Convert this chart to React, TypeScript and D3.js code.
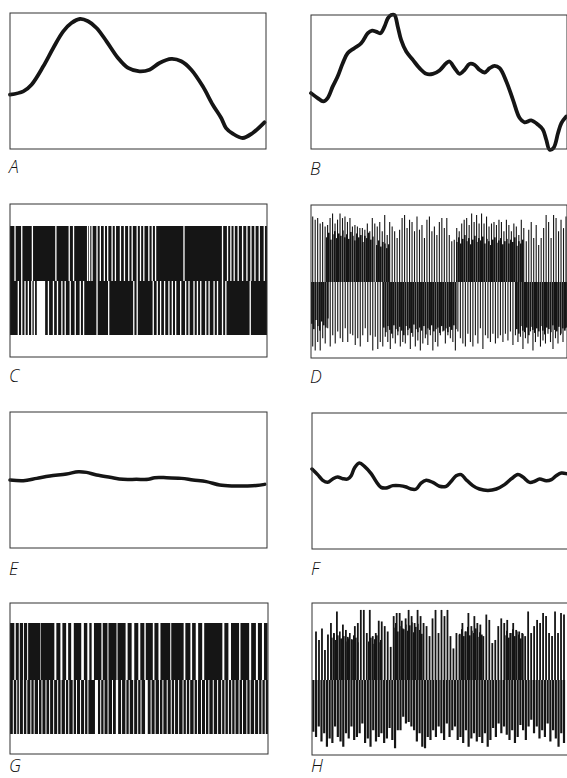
import React from 'react'
import * as d3 from 'd3'

// smooth traces, x and y both 0..100 of the frame
const traceA: [number, number][] = [
  [0, 40], [5.2, 42.4], [8.4, 47.3], [13, 60.8], [16.9, 74.3], [20.8, 86.5], [24, 92.6],
  [27.3, 95.6], [30.5, 93.9], [33.8, 89], [37.7, 79.2], [42.2, 66.9], [46.1, 59.6],
  [50.6, 57.1], [54.5, 58.3], [58.4, 63.2], [63, 66.2], [66.9, 64.5], [70.8, 58.3],
  [75.3, 46.1], [79.2, 32.6], [82.5, 22.8], [84.4, 15.4], [87, 11.3], [90.9, 8.1],
  [94.8, 11.8], [99.4, 19.6]
]
const traceB: [number, number][] = [
  [0, 41.7], [2.6, 38], [4.8, 35.5], [6.5, 38], [8.5, 46.7], [10.4, 54.1], [12.4, 64],
  [14.3, 71.5], [16.9, 75.2], [19.6, 78.9], [22.2, 86.4], [23.9, 88.3], [25.4, 87.6],
  [27.1, 86.4], [28.7, 91.3], [30, 97.5], [31.3, 100], [32.6, 100], [33.9, 91.3],
  [35.2, 81.4], [37.2, 72.7], [39.8, 66.5], [42.4, 60.3], [45, 56.1], [47.6, 56.1],
  [50.2, 58.6], [52.8, 64], [54.1, 65.3], [56.1, 60.3], [58, 56.1], [60, 59.1],
  [61.9, 63.5], [63.9, 62.8], [65.8, 59.1], [67.8, 57.1], [69.8, 60.3], [71.7, 62],
  [73.7, 60.3], [76.3, 50.4], [78.9, 36.7], [81.5, 23.1], [83.4, 19.9], [86, 21.3],
  [88.7, 18.1], [90.6, 14.4], [91.9, 6.9], [93.2, -0.5], [94.8, 1], [96.5, 11.9],
  [97.8, 19.4], [99.7, 24.3]
]
const traceE: [number, number][] = [
  [0, 50], [5.2, 49.5], [10.4, 51.2], [15.5, 52.9], [22, 54.4], [26.6, 56.1], [29.8, 55.6],
  [33.7, 53.7], [38.9, 52], [44, 50.5], [49.2, 50.5], [53.8, 50.5], [56.3, 51.7],
  [60.9, 51.7], [66.7, 51.2], [71.2, 50], [76.4, 48.8], [81.6, 46.3], [86.8, 45.6],
  [92, 45.6], [95.9, 45.9], [99.1, 46.8]
]
const traceF: [number, number][] = [
  [0, 58.8], [2.2, 54.7], [4.2, 50.5], [6.1, 49], [8.1, 51.5], [10, 52.9], [12, 51.7],
  [14, 51.5], [15.3, 53.9], [16.6, 59.6], [18.5, 63.2], [20.5, 60.8], [23.1, 55.4],
  [25, 49.8], [27, 45.3], [28.9, 44.9], [31.6, 46.6], [34.2, 46.6], [36.8, 45.6],
  [38.7, 44.1], [40.7, 44.1], [42.6, 48.5], [44.6, 50.5], [47.2, 49], [49.8, 46.1],
  [52.4, 46.1], [54.4, 49.8], [56.3, 53.9], [58.3, 54.7], [60.2, 51], [62.8, 46.6],
  [65.4, 44.1], [68.7, 43.1], [72, 44.1], [75.2, 47.3], [77.8, 51.5], [80.4, 54.7],
  [82.4, 52.9], [85, 49], [87, 49.8], [88.9, 51.5], [91.5, 50.2], [93.5, 51], [95.4, 53.9],
  [97.4, 55.9], [99.3, 55.4]
]

// binary pulse panels: white gaps (px along a 256 wide frame)
const gapsCTop = [5, 11.7, 22.3, 45.7, 59, 63.3, 77.3, 79.3, 81.7, 86.7, 90, 94, 97.3, 101.7,
  105, 110, 114, 118.3, 121.7, 126.7, 130, 133.3, 138.3, 141.7, 145, 173.3, 211.7, 216.7,
  220, 223.3, 227.3, 231.7, 236, 240, 244, 248.3, 253.3]
const gapsCBottom = [8.3, 11.7, 15, 18.3, 21.7, 24.3, 38.3, 43.3, 47.3, 51.7, 55, 60, 65, 70,
  73.3, 86.7, 98.3, 123.3, 126.7, 142.7, 146.7, 150, 154, 158.3, 161.7, 165, 170, 175, 178.3,
  183.3, 186.7, 190, 195, 198.3, 203.3, 206.7, 211.7, 215, 239.3]
const wideCBottom: [number, number][] = [[26.7, 35]]

const wideGTop: [number, number][] = [
  [4.3, 5.7], [8.7, 9.7], [13, 13.9], [17, 18], [30, 30.5], [44, 46], [50, 52], [55.7, 57.7],
  [60.7, 63.3], [70.7, 73.3], [76.7, 78.7], [81, 83.3], [90.7, 92], [96.7, 97.7],
  [105.7, 106.7], [114.7, 116.7], [120.7, 123.3], [127.3, 129.3], [133.3, 134.7],
  [141.7, 143.3], [147.3, 149.3], [159, 160], [172.3, 174], [179, 180.7], [184.3, 186.7],
  [190.7, 192.7], [210.7, 212.7], [216.7, 219.3], [227.3, 228.7], [237.3, 239.3],
  [244, 246], [250, 252], [255.5, 256]
]
const gapsGBottom = [3.3, 6.7, 9.3, 13.3, 16.7, 20.7, 24, 28.3, 31.7, 35.7, 39.3, 43.3, 47.3,
  50.7, 55, 58.3, 62.7, 66, 70, 74, 77.3, 90, 93.3, 97.3, 101.7, 110.7, 115, 118.3, 122.7,
  126.7, 130, 140, 144, 148.3, 151.7, 156, 160, 163.3, 167.3, 171.7, 175, 178.3, 182.7, 186,
  190, 194, 197.3, 201.7, 206, 210, 213.3, 216.7, 220, 223.3, 227.3, 230.7, 235, 238.3,
  242.7, 246.7, 250, 253.3]
const wideGBottom: [number, number][] = [[84.3, 87.3], [105, 107.3], [134, 136.7]]

// spike panels: spike heights (% of half frame), in order left to right
const spikesDUp = [85, 81, 83, 76, 78, 72, 74, 83, 89, 76, 81, 89, 83, 85, 78, 83, 72, 74, 72,
  70, 70, 68, 76, 66, 83, 76, 72, 78, 66, 87, 61, 78, 72, 66, 57, 68, 83, 87, 70, 81, 78, 66,
  85, 68, 74, 57, 81, 85, 66, 72, 61, 78, 83, 70, 83, 61, 53, 55, 70, 66, 76, 81, 83, 74, 89,
  78, 87, 76, 89, 76, 85, 72, 76, 78, 74, 81, 78, 66, 81, 74, 66, 76, 72, 61, 81, 70, 53, 68,
  78, 57, 74, 48, 57, 70, 87, 78, 57, 87, 83, 66, 81, 70, 85]
const spikesDDown = [85, 90, 79, 90, 74, 81, 61, 85, 70, 81, 65, 74, 79, 61, 79, 68, 70, 83, 74,
  85, 70, 61, 79, 70, 90, 72, 88, 79, 85, 72, 79, 88, 74, 81, 70, 85, 79, 81, 70, 88, 72, 85,
  77, 90, 81, 74, 83, 70, 90, 79, 85, 70, 65, 81, 70, 74, 79, 90, 65, 74, 81, 85, 68, 79, 85,
  70, 81, 61, 88, 70, 74, 79, 68, 81, 74, 70, 79, 68, 77, 65, 83, 70, 79, 72, 88, 74, 81, 65,
  90, 79, 72, 85, 77, 81, 68, 79, 88, 74, 81, 70, 79, 61]

// dense clusters: start px, then heights every 2 px
type Cluster = { from: number; heights: number[] }
const denseDUp: Cluster[] = [
  { from: 15, heights: [58, 64, 55, 62, 66, 57, 63, 60, 67, 58, 62, 56, 65, 60, 54, 63, 58, 61, 52, 60, 57, 64, 55, 59] },
  { from: 65, heights: [48, 54, 46, 52, 50, 44, 49] },
  { from: 145, heights: [52, 58, 50, 56, 61, 53, 57, 49, 55, 60, 52, 57, 54, 59, 50, 56, 53, 48, 55, 58, 51, 54, 57, 49, 53, 56, 50, 55, 52, 58, 47, 53, 50, 55] }
]
const denseDDown: Cluster[] = [
  { from: 0, heights: [55, 62, 50, 58, 64, 52, 57, 60, 48] },
  { from: 72, heights: [60, 66, 58, 63, 68, 57, 62, 65, 59, 64, 70, 58, 63, 61, 67, 56, 62, 66, 60, 64, 58, 69, 61, 63, 57, 65, 62, 60, 67, 58, 64, 61, 66, 59, 63, 57, 62] },
  { from: 205, heights: [62, 68, 58, 64, 66, 60, 70, 59, 63, 67, 61, 65, 58, 64, 69, 60, 62, 66, 57, 63, 65, 59, 68, 61, 64, 60] }
]

const spikesHUp = [63, 52, 67, 39, 59, 74, 61, 89, 54, 72, 65, 54, 52, 70, 74, 91, 91, 61, 91,
  57, 61, 77, 76, 70, 63, 43, 83, 87, 87, 67, 80, 91, 83, 74, 91, 83, 74, 70, 57, 80, 91, 61,
  91, 83, 91, 57, 41, 61, 59, 74, 63, 87, 70, 83, 74, 72, 57, 85, 78, 48, 52, 70, 80, 74, 78,
  61, 74, 65, 63, 61, 57, 89, 61, 70, 78, 74, 87, 83, 61, 57, 89, 61, 87, 85]
const spikesHDown = [69, 76, 62, 82, 71, 89, 78, 84, 62, 76, 82, 89, 71, 78, 62, 80, 76, 71,
  58, 84, 78, 89, 67, 82, 76, 71, 84, 78, 64, 80, 91, 67, 67, 49, 58, 56, 62, 67, 82, 71, 89,
  91, 76, 80, 67, 76, 62, 71, 80, 58, 76, 67, 62, 80, 76, 84, 67, 89, 78, 71, 82, 76, 84, 71,
  89, 80, 64, 76, 58, 71, 62, 73, 80, 67, 84, 76, 60, 67, 80, 62, 53, 71, 62, 78, 67, 76, 58,
  82, 67, 78, 89, 71, 84]
const denseHUp: Cluster[] = [
  { from: 19, heights: [55, 60, 52, 58, 63, 54, 57, 50, 56, 61, 53, 58, 55, 49] },
  { from: 56, heights: [50, 55, 47, 53, 58, 49, 52] },
  { from: 81, heights: [68, 74, 63, 70, 77, 66, 72, 64, 71, 75, 62, 69, 73, 65, 60] },
  { from: 147, heights: [60, 66, 57, 63, 69, 58, 64, 61, 67, 56, 62, 59] },
  { from: 192, heights: [58, 64, 55, 61, 66, 57, 63, 59, 54, 60] }
]

const labels = ['A', 'B', 'C', 'D', 'E', 'F', 'G', 'H']

type Box = { x0: number; x1: number; y0: number; y1: number }

const frames: Box[] = [
  { x0: 10, x1: 266, y0: 13, y1: 149 },
  { x0: 311, x1: 567, y0: 15, y1: 149 },
  { x0: 10, x1: 267, y0: 204, y1: 357 },
  { x0: 311, x1: 567, y0: 205, y1: 358 },
  { x0: 10, x1: 267, y0: 412, y1: 548 },
  { x0: 312, x1: 568, y0: 413, y1: 549 },
  { x0: 10, x1: 268, y0: 603, y1: 754 },
  { x0: 312, x1: 568, y0: 603, y1: 755 }
]
const labelY = [173, 175, 382, 383, 575, 575, 772, 772]

const ink = '#151515'

function Trace({ box, data, width }: { box: Box; data: [number, number][]; width: number }) {
  const x = d3.scaleLinear().domain([0, 100]).range([box.x0, box.x1])
  const y = d3.scaleLinear().domain([0, 100]).range([box.y1, box.y0])
  const line = d3.line<[number, number]>()
    .x(d => x(d[0]))
    .y(d => y(d[1]))
    .curve(d3.curveCatmullRom.alpha(0.5))
  return <path d={line(data) || ''} fill="none" stroke={ink} strokeWidth={width}
    strokeLinecap="round" strokeLinejoin="round" />
}

// black runs between the white gaps
function runs(gaps: number[], wide: [number, number][], w: number) {
  const cuts: [number, number][] = gaps.map(g => [g - w / 2, g + w / 2] as [number, number])
    .concat(wide)
    .sort((a, b) => a[0] - b[0])
  const out: [number, number][] = []
  let pos = 0
  cuts.forEach(c => {
    if (c[0] > pos) out.push([pos, c[0]])
    pos = Math.max(pos, c[1])
  })
  if (pos < 256) out.push([pos, 256])
  return out
}

function Pulses({ box, top, mid, bottom, upGaps, upWide, downGaps, downWide, w }: {
  box: Box; top: number; mid: number; bottom: number
  upGaps: number[]; upWide: [number, number][]; downGaps: number[]; downWide: [number, number][]; w: number
}) {
  const x = d3.scaleLinear().domain([0, 256]).range([box.x0, box.x1])
  const up = runs(upGaps, upWide, w)
  const down = runs(downGaps, downWide, w)
  return (
    <g fill={ink}>
      {up.map((r, i) => (
        <rect key={'u' + i} x={x(r[0])} width={x(r[1]) - x(r[0])} y={top} height={mid - top} />
      ))}
      {down.map((r, i) => (
        <rect key={'d' + i} x={x(r[0])} width={x(r[1]) - x(r[0])} y={mid} height={bottom - mid} />
      ))}
    </g>
  )
}

function Spikes({ box, mid, up, down, upRange, downRange, upDense, downDense, swUp, swDown }: {
  box: Box; mid: number; up: number[]; down: number[]
  upRange: [number, number]; downRange: [number, number]
  upDense: Cluster[]; downDense: Cluster[]; swUp: number; swDown: number
}) {
  const x = d3.scaleLinear().domain([0, 256]).range([box.x0, box.x1])
  const hUp = d3.scaleLinear().domain([0, 100]).range([0, mid - box.y0])
  const hDown = d3.scaleLinear().domain([0, 100]).range([0, box.y1 - mid])
  const iu = d3.scaleLinear().domain([0, up.length - 1]).range(upRange)
  const id = d3.scaleLinear().domain([0, down.length - 1]).range(downRange)
  const step = 2
  return (
    <g>
      {upDense.map((c, j) => c.heights.map((v, i) => (
        <rect key={'cu' + j + '-' + i} x={x(c.from + i * step)} width={x(step - 0.35) - x(0)}
          y={mid - hUp(v)} height={hUp(v)} fill={ink} />
      )))}
      {downDense.map((c, j) => c.heights.map((v, i) => (
        <rect key={'cd' + j + '-' + i} x={x(c.from + i * step)} width={x(step - 0.35) - x(0)}
          y={mid} height={hDown(v)} fill={ink} />
      )))}
      {up.map((v, i) => (
        <line key={'u' + i} x1={x(iu(i))} x2={x(iu(i))} y1={mid} y2={mid - hUp(v)} stroke={ink} strokeWidth={swUp} />
      ))}
      {down.map((v, i) => (
        <line key={'d' + i} x1={x(id(i))} x2={x(id(i))} y1={mid} y2={mid + hDown(v)} stroke={ink} strokeWidth={swDown} />
      ))}
    </g>
  )
}

export default function App() {
  const [fa, fb, fc, fd, fe, ff, fg, fh] = frames
  return (
    <svg width={567} height={778} style={{ position: 'absolute', left: 0, top: 0, background: '#fff' }}>
      <rect x={0} y={0} width={567} height={778} fill="#fff" />

      <Trace box={fa} data={traceA} width={3.8} />
      <Trace box={fb} data={traceB} width={3.8} />

      <Pulses box={fc} top={226} mid={281} bottom={335}
        upGaps={gapsCTop} upWide={[]} downGaps={gapsCBottom} downWide={wideCBottom} w={1.3} />

      <Spikes box={fd} mid={282} up={spikesDUp} down={spikesDDown}
        upRange={[1.7, 255]} downRange={[1.7, 254.5]}
        upDense={denseDUp} downDense={denseDDown} swUp={1.1} swDown={1.1} />

      <Trace box={fe} data={traceE} width={3.5} />
      <Trace box={ff} data={traceF} width={3.5} />

      <Pulses box={fg} top={623} mid={680} bottom={734}
        upGaps={[]} upWide={wideGTop} downGaps={gapsGBottom} downWide={wideGBottom} w={1.0} />

      <Spikes box={fh} mid={680} up={spikesHUp} down={spikesHDown}
        upRange={[4, 252]} downRange={[1.3, 252]}
        upDense={denseHUp} downDense={[]} swUp={1.8} swDown={2.2} />

      {frames.map((f, i) => (
        <rect key={'f' + i} x={f.x0} y={f.y0} width={f.x1 - f.x0} height={f.y1 - f.y0}
          fill="none" stroke="#333" strokeWidth={1} />
      ))}

      {frames.map((f, i) => (
        <text key={'l' + i} x={f.x0 - 1} y={labelY[i]} fontFamily="'Open Sans', 'DejaVu Sans', sans-serif"
          fontStyle="italic" fontWeight={300} fontSize={17.5} fill="#111">{labels[i]}</text>
      ))}
    </svg>
  )
}
